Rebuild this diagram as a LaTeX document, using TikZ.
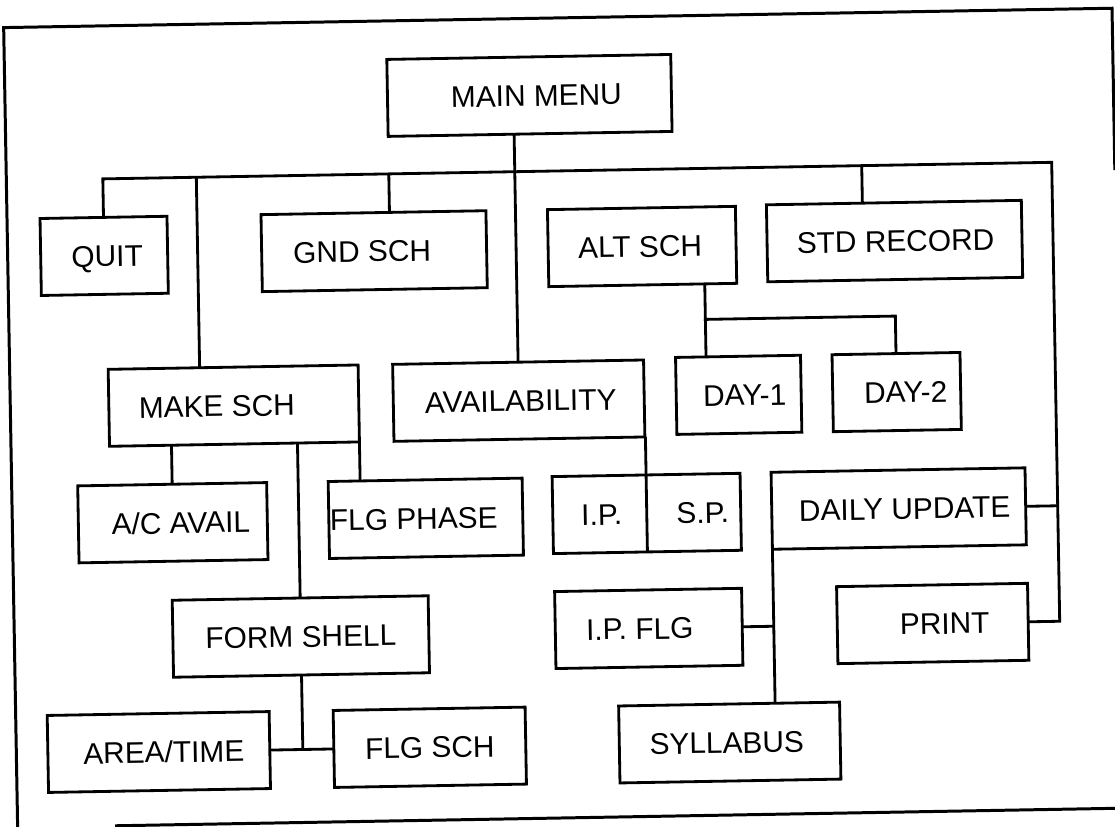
\documentclass[tikz,border=0pt]{standalone}
\usepackage{fontspec}
\setmainfont{Liberation Sans}
\begin{document}
\begin{tikzpicture}[x=0.02cm, y=-0.02cm,
  box/.style={draw, line width=1.6pt, minimum height=1.54cm, inner sep=0pt, outer sep=0pt},
  lbl/.style={inner sep=0pt, text height=12.2pt, text depth=0pt, font=\fontsize{17}{20}\selectfont},
  conn/.style={line width=1.6pt},
  frameline/.style={line width=1.7pt}]
\useasboundingbox (0,0) rectangle (1115,827);
\begin{scope}[rotate around={1:(557,414)}, transform shape]
% frame (open, as scanned)
\draw[frameline] (1119,180) -- (1119,18) -- (10.5,18) -- (10.5,835);
\draw[frameline] (108,818) -- (1135,818);

% boxes
\node[box, minimum width=5.68cm] (main) at (535,95) {};
\node[box, minimum width=2.54cm] (quit) at (107,248) {};
\node[box, minimum width=4.50cm] (gnd) at (377,248) {};
\node[box, minimum width=3.76cm] (alt) at (645,248) {};
\node[box, minimum width=5.10cm] (std) at (897.5,247) {};
\node[box, minimum width=5.00cm] (make) at (234,400) {};
\node[box, minimum width=5.02cm] (avail) at (519,400) {};
\node[box, minimum width=2.50cm] (day1) at (739,398) {};
\node[box, minimum width=2.56cm] (day2) at (897,398) {};
\node[box, minimum width=3.78cm] (acavail) at (171,516) {};
\node[box, minimum width=3.88cm] (flgphase) at (424,516) {};
\node[box, minimum width=3.76cm] (ipsp) at (645,515) {};
\node[box, minimum width=5.08cm] (daily) at (897,514.5) {};
\node[box, minimum width=5.12cm] (form) at (297,632) {};
\node[box, minimum width=3.74cm] (ipflg) at (645,630) {};
\node[box, minimum width=3.82cm] (print) at (929,630) {};
\node[box, minimum width=4.44cm] (area) at (153,745) {};
\node[box, minimum width=3.84cm] (flgsch) at (424,745) {};
\node[box, minimum width=4.42cm] (syll) at (724,745.5) {};

% texts
\node[lbl] (t-main) at ([xshift=0.14cm]main.center) {MAIN MENU};
\node[lbl] (t-quit) at ([xshift=0.06cm]quit.center) {QUIT};
\node[lbl] (t-gnd) at ([xshift=-0.24cm]gnd.center) {GND SCH};
\node[lbl] (t-alt) at ([xshift=-0.04cm]alt.center) {ALT SCH};
\node[lbl] (t-std) at ([xshift=0.02cm]std.center) {STD RECORD};
\node[lbl] (t-make) at ([xshift=-0.34cm]make.center) {MAKE SCH};
\node[lbl] (t-avail) at ([xshift=0.04cm]avail.center) {AVAILABILITY};
\node[lbl] (t-day1) at ([xshift=0.12cm]day1.center) {DAY-1};
\node[lbl] (t-day2) at ([xshift=0.18cm]day2.center) {DAY-2};
\node[lbl] (t-acavail) at ([xshift=0.16cm]acavail.center) {A/C AVAIL};
\node[lbl] (t-flgphase) at ([xshift=-0.24cm]flgphase.center) {FLG PHASE};
\node[lbl] (t-ip) at ([xshift=-0.90cm]ipsp.center) {I.P.};
\node[lbl] (t-sp) at ([xshift=1.12cm]ipsp.center) {S.P.};
\node[lbl] (t-daily) at ([xshift=0.12cm]daily.center) {DAILY UPDATE};
\node[lbl] (t-form) at (form.center) {FORM SHELL};
\node[lbl] (t-ipflg) at ([xshift=-0.18cm]ipflg.center) {I.P. FLG};
\node[lbl] (t-print) at ([xshift=0.24cm]print.center) {PRINT};
\node[lbl] (t-area) at ([xshift=0.10cm]area.center) {AREA/TIME};
\node[lbl] (t-flgsch) at (flgsch.center) {FLG SCH};
\node[lbl] (t-syll) at ([xshift=-0.06cm]syll.center) {SYLLABUS};

% connector coordinates
\coordinate (rv) at (1056,171);
\coordinate (mk) at (200.5,171);
\coordinate (gk) at (393,171);
\coordinate (sk) at (866,171);
\coordinate (ak) at (707,322);

% main bus
\draw[conn] (quit.north) |- (rv) |- (print.east);
\draw[conn] (daily.east) -- (daily.east -| rv);
\draw[conn] (mk) -- (mk |- make.north);
\draw[conn] (gk) -- (gk |- gnd.north);
\draw[conn] (sk) -- (sk |- std.north);
\draw[conn] (main.south -| avail.north) -- (avail.north);

% alt sch
\draw[conn] (ak |- alt.south) -- (ak) -| (day2.north);
\draw[conn] (ak) -- (ak |- day1.north);

% availability -> I.P./S.P. (also the divider)
\draw[conn] (ipsp.south |- avail.south) -- (ipsp.south);

% make sch children
\draw[conn] (make.south -| acavail.north) -- (acavail.north);
\draw[conn] (make.south -| form.north) -- (form.north);
\draw[conn] (make.south east) -- (make.south east |- flgphase.north);

% form shell children
\coordinate (fk) at (form.south |- area.east);
\draw[conn] (form.south) -- (fk);
\draw[conn] (area.east) -- (flgsch.west);

% daily update children
\draw[conn] (daily.south west) -- (daily.south west |- syll.north);
\draw[conn] (ipflg.east) -- (ipflg.east -| daily.south west);
\end{scope}
\end{tikzpicture}
\end{document}
